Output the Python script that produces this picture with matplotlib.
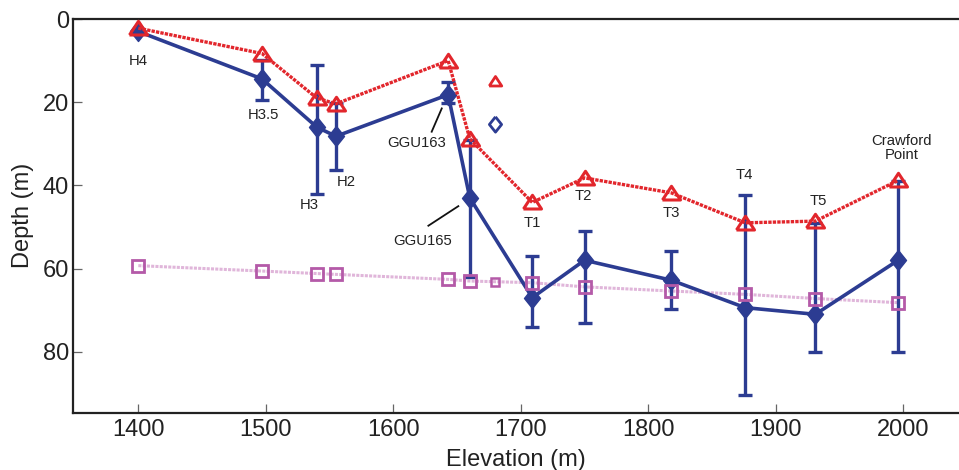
import matplotlib
matplotlib.use("Agg")
import matplotlib.pyplot as plt

plt.rcParams['font.family'] = ['Liberation Sans', 'DejaVu Sans']

# ---- data ----
elev = [1400, 1497, 1540, 1555, 1643, 1660, 1709, 1750, 1818, 1876, 1931, 1996]
depth_blue = [3, 14.4, 26, 28.2, 18.2, 43, 67, 58, 62.8, 69.4, 71, 58]
err_up = [0, 4.5, 15, 8, 3, 14, 10, 7, 7, 27, 22, 19]   # towards shallower depth
err_down = [0, 5, 16, 8, 2, 19, 7, 15, 7, 21, 9, 22]    # towards deeper depth
depth_red = [2.2, 8.3, 19, 20.4, 10, 28.8, 44.1, 38.2, 41.8, 49, 48.6, 38.8]
depth_pink = [59.3, 60.6, 61.2, 61.4, 62.6, 63.0, 63.4, 64.4, 65.4, 66.2, 67.2, 68.2]

extra_elev = [1680]
extra_red = [15]
extra_blue = [25.2]
extra_pink = [63.2]

site_labels = ["H4", "H3.5", "H3", "H2", "GGU163", "GGU165",
               "T1", "T2", "T3", "T4", "T5", "Crawford\nPoint"]
label_x = [1400, 1498, 1534, 1563, 1618, 1623, 1709, 1749, 1818, 1875.5, 1933, 1998.7]
label_y = [10.2, 23.0, 44.6, 39.3, 29.9, 53.3, 49.0, 42.6, 46.6, 37.4, 43.8, 30.9]

xticks = [1400, 1500, 1600, 1700, 1800, 1900, 2000]
yticks = [0, 20, 40, 60, 80]

# ---- style ----
blue = '#2c3c92'
red = '#e2262c'
pink_edge = '#b45aa8'
pink_line = '#e0b6da'
txt = '#222222'

diamond = [(0, 1), (0.8, 0), (0, -1), (-0.8, 0), (0, 1)]
triangle = [(-1, -0.72), (1, -0.72), (0, 0.8), (-1, -0.72)]

fig = plt.figure(figsize=(9.59, 4.70), dpi=100)
ax = fig.add_axes([73.3 / 959, 1 - 413.3 / 470, 1 - 73.3 / 959, (413.3 - 19) / 470])

# pink series
ax.plot(elev, depth_pink, color=pink_line, lw=2.2, ls=(0, (1, 0.4)), zorder=1)

# blue series with error bars
ax.errorbar(elev, depth_blue, yerr=[err_up, err_down], fmt='none', ecolor=blue,
            elinewidth=2.4, capsize=5, capthick=2.4, zorder=2)
ax.plot(elev, depth_blue, color=blue, lw=2.6, marker=diamond, ms=14.4,
        mfc=blue, mec=blue, mew=1, zorder=3)

# pink squares
ax.plot(elev, depth_pink, ls='none', marker='s', ms=8.5, mfc='none',
        mec=pink_edge, mew=2.0, zorder=4)

# red series
ax.plot(elev, depth_red, color=red, lw=2.4, ls=(0, (1, 0.35)), zorder=5)
ax.plot(elev, depth_red, ls='none', marker=triangle, ms=13, mfc='none',
        mec=red, mew=2.2, zorder=6)

# isolated points
ax.plot(extra_elev, extra_red, ls='none', marker=triangle, ms=9, mfc='none',
        mec=red, mew=2.0, zorder=6)
ax.plot(extra_elev, extra_blue, ls='none', marker=diamond, ms=11, mfc='none',
        mec=blue, mew=2.0, zorder=6)
ax.plot(extra_elev, extra_pink, ls='none', marker='s', ms=5.5, mfc='none',
        mec=pink_edge, mew=1.8, zorder=4)

# labels
for lx, ly, s in zip(label_x, label_y, site_labels):
    ax.text(lx, ly, s, ha='center', va='center', fontsize=10.7, color=txt,
            linespacing=1.0, zorder=7)

# leader lines
ax.plot([1630.1, 1638], [27.1, 21.5], color='#111111', lw=1.3, zorder=7)
ax.plot([1627.5, 1651], [49.7, 45.0], color='#111111', lw=1.3, zorder=7)

ax.set_xlim(1349, 2043.7)
ax.set_ylim(94.8, 0)
ax.set_xticks(xticks)
ax.set_yticks(yticks)
ax.tick_params(direction='in', length=6.5, width=0.9, color='#666666',
               labelsize=17, labelcolor=txt, pad=3)
ax.tick_params(axis='x', pad=4)
for side in ['left', 'top', 'bottom']:
    ax.spines[side].set_linewidth(1.6)
    ax.spines[side].set_color('#222222')
ax.spines['right'].set_visible(False)

ax.set_xlabel('Elevation (m)', fontsize=17, color=txt, va='center')
ax.xaxis.set_label_coords(0.5, (413.3 - 460) / (413.3 - 19))
ax.set_ylabel('Depth (m)', fontsize=17, color=txt, va='center')
ax.yaxis.set_label_coords((23 - 73.3) / (959 - 73.3), (413.3 - 215.5) / (413.3 - 19))

fig.savefig('out.png', dpi=100)
